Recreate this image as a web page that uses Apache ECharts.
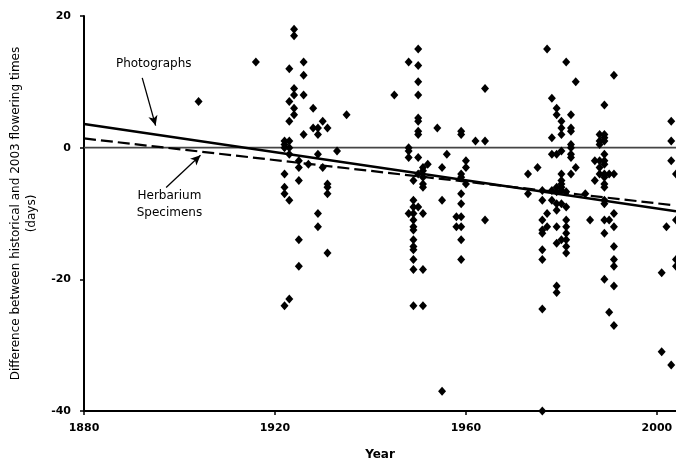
<!DOCTYPE html>
<html lang="en">
<head>
    <meta charset="UTF-8">
    <title>Flowering times</title>
    <style>
        html, body { margin: 0; padding: 0; background: #fff; }
    </style>
</head>
<body>
<div id="main" style="width:676px; height:466px"></div>

<script src="https://cdn.jsdelivr.net/npm/echarts@6.0.0/dist/echarts.min.js"></script>
<script>
    // observations: year -> list of day differences
    var obsYears = [1904, 1916, 1922, 1923, 1924, 1925, 1926, 1927, 1928, 1929, 1930, 1931, 1933, 1935,
        1945, 1948, 1949, 1950, 1951, 1952, 1954, 1955, 1956, 1958, 1959, 1960, 1962, 1964,
        1973, 1975, 1976, 1977, 1978, 1979, 1980, 1981, 1982, 1983, 1985, 1986, 1987, 1988,
        1989, 1990, 1991, 2001, 2002, 2003, 2004];
    var obsDiffs = [
        [7],
        [13],
        [1, 0, 0.5, -4, -6, -7, -24],
        [12, 7, 4, 1, 0, -1, -8, -23],
        [18, 17, 9, 8, 6, 5],
        [-2, -3, -5, -14, -18],
        [13, 11, 8, 2],
        [-2.5],
        [6, 3],
        [3, 2, -1, -10, -12],
        [4, -3],
        [3, -5.5, -6, -7, -16],
        [-0.5],
        [5],
        [8],
        [13, 0, -0.5, -1.5, -10],
        [-5, -8, -9, -10, -11, -12, -12.5, -14, -15, -15.5, -17, -18.5, -24],
        [15, 12.5, 10, 8, 4.5, 4, 2.5, 2, -1.5, -4, -9],
        [-3, -3.5, -4.5, -5.5, -6, -10, -18.5, -24],
        [-2.5],
        [3],
        [-3, -8, -37],
        [-1],
        [-10.5, -12],
        [2.5, 2, -4, -4.5, -7, -8.5, -10.5, -12, -14, -17],
        [-2, -3, -5.5],
        [1],
        [9, 1, -11],
        [-4, -7],
        [-3],
        [-6.5, -8, -11, -12.5, -13, -15.5, -17, -24.5, -40],
        [15, -10, -12],
        [7.5, 1.5, -1, -6.5, -8],
        [6, 5, -1, -6, -6.7, -8.5, -9.5, -12, -14.5, -21, -22],
        [4, 3, 2, -0.5, -4, -5, -5.5, -6, -6.5, -8.5, -14],
        [13, -6.7, -9, -11, -12, -13, -14, -15, -16],
        [5, 3, 2.5, 0.5, 0, -1, -1.5, -4],
        [10, -3],
        [-7],
        [-11],
        [-2, -5],
        [2, 1, 0.5, -2, -3, -4],
        [6.5, 2, 1.5, 1, -1, -2, -2.5, -4, -4.5, -5.5, -6, -8, -8.5, -11, -13, -20],
        [-4, -11, -25],
        [11, -4, -10, -12, -15, -17, -18, -21, -27],
        [-19, -31],
        [-12],
        [4, 1, -2, -33],
        [-4, -11, -17, -18]
    ];

    // fitted trend lines (end points)
    var photoTrend = [[1880, 3.6], [2004, -9.65]];
    var herbTrend = [[1880, 1.4], [2003, -8.7]];
    var zeroLine = [[1880, 0], [2004, 0]];

    var xTicks = [1880, 1920, 1960, 2000];

    // annotations, in data units
    var photoArrow = [[1892.2, 10.6], [1895, 3.35]];
    var herbArrow = [[1897.2, -6.05], [1904.4, -1.15]];
    var photoLabel = ['Photographs', [1894.6, 12.7]];
    var herbLabel = ['Herbarium\nSpecimens', [1897.9, -8.65]];

    var points = [];
    obsYears.forEach(function (yr, i) {
        obsDiffs[i].forEach(function (d) { points.push([yr, d]); });
    });

    var font = 'DejaVu Sans';
    var myChart = echarts.init(document.getElementById('main'));
    var option = {
        animation: false,
        backgroundColor: '#fff',
        grid: { left: 77, right: 0, top: 16, bottom: 50 },
        xAxis: {
            type: 'value',
            min: 1880, max: 2004, interval: 40,
            name: 'Year',
            nameLocation: 'middle',
            nameGap: 38,
            nameTextStyle: { fontFamily: font, fontSize: 12, color: '#000', fontWeight: 'bold' },
            splitLine: { show: false },
            axisLine: { onZero: false, lineStyle: { color: '#000', width: 2 } },
            axisTick: { customValues: xTicks, length: 4, lineStyle: { color: '#000', width: 1.5 } },
            axisLabel: {
                customValues: xTicks, margin: 12, fontFamily: font, fontSize: 11,
                fontWeight: 'bold', color: '#000',
                formatter: function (v) { return String(v); }
            }
        },
        yAxis: {
            type: 'value',
            min: -40, max: 20, interval: 20,
            name: 'Difference between historical and 2003 flowering times\n(days)',
            nameLocation: 'middle',
            nameGap: 44,
            nameTextStyle: { fontFamily: font, fontSize: 12, color: '#000', lineHeight: 16 },
            splitLine: { show: false },
            axisLine: { show: true, lineStyle: { color: '#000', width: 2 } },
            axisTick: { show: true, length: 4, lineStyle: { color: '#000', width: 1.5 } },
            axisLabel: { margin: 13, fontFamily: font, fontSize: 11, fontWeight: 'bold', color: '#000' }
        },
        series: [
            {
                type: 'line',
                data: zeroLine,
                symbol: 'none',
                lineStyle: { color: '#444', width: 1.8 },
                z: 1,
                markLine: {
                    silent: true,
                    animation: false,
                    symbol: ['none', 'arrow'],
                    symbolSize: [7, 10],
                    label: { show: false },
                    lineStyle: { color: '#000', width: 1.3, type: 'solid' },
                    data: [
                        [{ coord: photoArrow[0] }, { coord: photoArrow[1] }],
                        [{ coord: herbArrow[0] }, { coord: herbArrow[1] }]
                    ]
                }
            },
            {
                type: 'line',
                data: photoTrend,
                symbol: 'none',
                lineStyle: { color: '#000', width: 2.4 },
                z: 2
            },
            {
                type: 'line',
                data: herbTrend,
                symbol: 'none',
                lineStyle: { color: '#000', width: 2.2, type: [12, 5] },
                z: 2
            },
            {
                type: 'scatter',
                data: points,
                symbol: 'diamond',
                symbolSize: [8, 9],
                itemStyle: { color: '#000', opacity: 1 },
                z: 3
            }
        ]
    };
    myChart.setOption(option);

    function textAt(lbl) {
        var p = myChart.convertToPixel({ gridIndex: 0 }, lbl[1]);
        return {
            type: 'text', x: p[0], y: p[1],
            style: {
                text: lbl[0], fontFamily: font, fontSize: 12, fill: '#000',
                align: 'center', verticalAlign: 'middle', lineHeight: 17
            }
        };
    }
    myChart.setOption({ graphic: [textAt(photoLabel), textAt(herbLabel)] });
</script>
</body>
</html>
